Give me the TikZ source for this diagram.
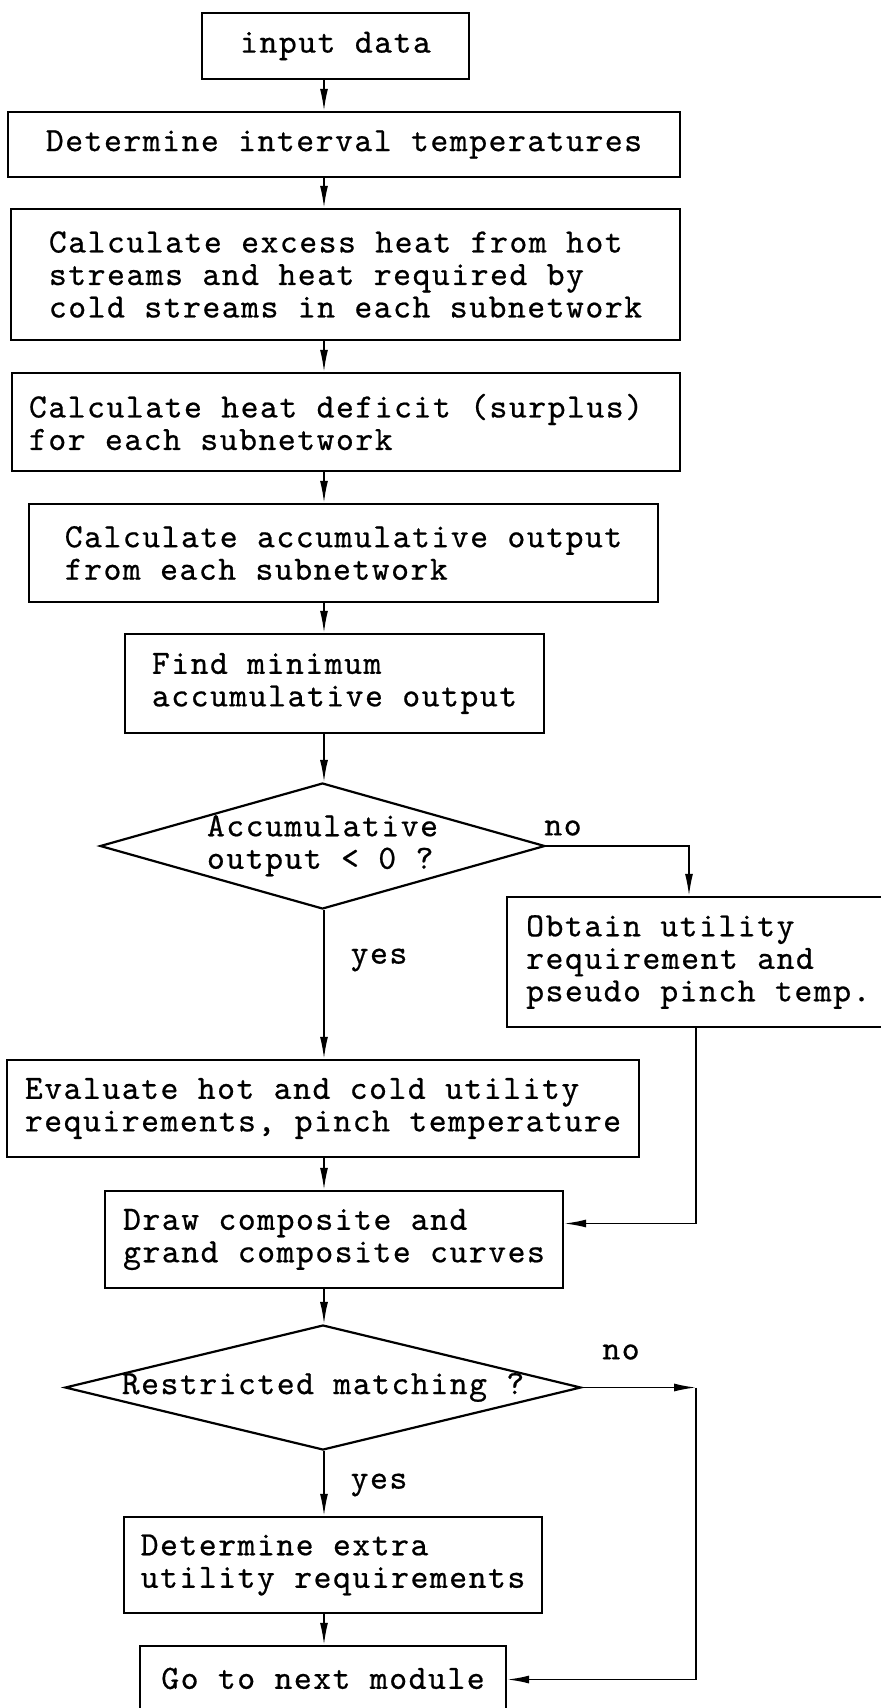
\documentclass[tikz,border=0pt]{standalone}
\usepackage{fontspec}
\newfontfamily\typew{lmmono10-regular.otf}[LetterSpace=4.5,FakeBold=0.6]
\usetikzlibrary{shapes.geometric,arrows.meta}

\begin{document}
\begin{tikzpicture}[x=0.5pt, y=-0.5pt,
  every node/.style={font=\typew\fontsize{17pt}{16.25pt}\selectfont},
  box/.style={draw, line width=1.2pt, align=left, inner sep=0pt},
  decision/.style={diamond, draw, line width=1.1pt, inner sep=0pt},
  arr/.style={line width=0.8pt, -{Latex[length=11pt,width=4pt]}}]
\useasboundingbox (0,0) rectangle (881,1708);
\coordinate (axis) at (324,0);
\coordinate (railA) at (689,0);
\coordinate (railB) at (696,0);

\node [box, minimum width=133.5pt, minimum height=33pt] (input) at (335.5,46) {input data};
\node [box, minimum width=336pt, minimum height=32.5pt] (det) at (344,144.5) {Determine interval temperatures};
\node [box, minimum width=334.5pt, minimum height=65.5pt] (excess) at (345.5,274.5)
  {Calculate excess heat from hot\\streams and heat required by\\cold streams in each subnetwork};
\node [box, minimum width=334pt, minimum height=49pt, text width=317pt, align=flush left] (deficit) at (346,422)
  {Calculate heat deficit (surplus)\\for each subnetwork};
\node [box, minimum width=314.5pt, minimum height=49pt] (accum) at (343.5,553)
  {Calculate accumulative output\\from each subnetwork};
\node [box, minimum width=209.5pt, minimum height=49.5pt] (find) at (334.5,683.5)
  {Find minimum\\accumulative output};
\node [decision, minimum width=222.5pt, minimum height=63pt] (d1) at (322.5,846)
  {\makebox[0pt]{\begin{tabular}{@{}l@{}}Accumulative\\output {<} 0 ?\end{tabular}}};
\node [box, anchor=west, inner xsep=9.5pt, minimum height=65pt] (obtain) at (506,962)
  {Obtain utility\\requirement and\\pseudo pinch temp.};
\node [box, minimum width=316pt, minimum height=48.5pt] (eval) at (323,1108.5)
  {Evaluate hot and cold utility\\requirements, pinch temperature};
\node [box, minimum width=229pt, minimum height=48.5pt] (curves) at (334,1239.5)
  {Draw composite and\\grand composite curves};
\node [decision, minimum width=258pt, minimum height=62.5pt] (d2) at (323,1387.5)
  {\makebox[0pt]{Restricted matching ?}};
\node [box, minimum width=209pt, minimum height=48pt] (extra) at (333,1565)
  {Determine extra\\utility requirements};
\node [box, minimum width=183pt, minimum height=48.5pt] (go) at (323,1694.5)
  {Go to next module\\\mbox{}};

\node (no1) at (563,828) {no};
\node (yes1) at (379,960) {yes};
\node (no2) at (621,1352) {no};
\node (yes2) at (379,1485) {yes};

\foreach \a/\b in {input/det, det/excess, excess/deficit, deficit/accum, accum/find,
    find/d1, d1/eval, eval/curves, curves/d2, d2/extra, extra/go}
  \draw [arr] (\a.south -| axis) -- (\b.north -| axis);

\draw [arr] (d1.east) -| (obtain.north -| railA);
\draw [arr] (obtain.south -| railB) |- ([yshift=8pt]curves.east);
\draw [arr] (d2.east) -- (d2.east -| railB);
\draw [arr] (d2.east -| railB) |- ([yshift=7.5pt]go.east);
\end{tikzpicture}
\end{document}
